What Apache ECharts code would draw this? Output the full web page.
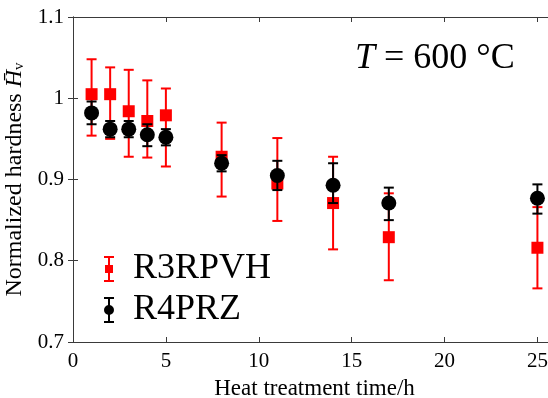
<!DOCTYPE html>
<html>
<head>
<meta charset="utf-8">
<script src="https://cdn.jsdelivr.net/npm/echarts@6/dist/echarts.min.js"></script>
<style>html,body{margin:0;padding:0;background:#fff;}#c{width:548px;height:398px;}</style>
</head>
<body>
<div id="c"></div>
<script>
// ---- data ----
const times = [1, 2, 3, 4, 5, 8, 11, 14, 17, 25];
const redName = 'R3RPVH';
const redMean = [1.005, 1.005, 0.984, 0.972, 0.979, 0.928, 0.895, 0.871, 0.829, 0.816];
const redHigh = [1.048, 1.038, 1.035, 1.022, 1.012, 0.970, 0.951, 0.928, 0.883, 0.866];
const redLow  = [0.954, 0.950, 0.928, 0.927, 0.916, 0.879, 0.849, 0.814, 0.776, 0.766];
const blackName = 'R4PRZ';
const blackMean = [0.982, 0.962, 0.962, 0.955, 0.952, 0.920, 0.905, 0.893, 0.871, 0.877];
const blackHigh = [0.996, 0.972, 0.972, 0.968, 0.962, 0.930, 0.923, 0.920, 0.890, 0.894];
const blackLow  = [0.968, 0.952, 0.952, 0.941, 0.942, 0.910, 0.887, 0.871, 0.850, 0.858];
const xTicks = [0, 5, 10, 15, 20, 25];
const yTicks = [0.7, 0.8, 0.9, 1.0, 1.1];

const FONT = '"Liberation Serif", "DejaVu Serif", serif';
const AXIS_COLOR = '#3a3a3a';
const RED = '#ff0000';
const BLACK = '#000000';

function pts(mean) { return times.map((t, i) => [t, mean[i]]); }
function bars(low, high) { return times.map((t, i) => [t, low[i], high[i]]); }

function errRender(color) {
  return function (params, api) {
    const x = api.value(0), lo = api.value(1), hi = api.value(2);
    const p1 = api.coord([x, hi]);
    const p2 = api.coord([x, lo]);
    const hw = 5;
    const st = { stroke: color, lineWidth: 2 };
    return {
      type: 'group',
      children: [
        { type: 'line', shape: { x1: p1[0], y1: p1[1], x2: p2[0], y2: p2[1] }, style: st },
        { type: 'line', shape: { x1: p1[0] - hw, y1: p1[1], x2: p1[0] + hw, y2: p1[1] }, style: st },
        { type: 'line', shape: { x1: p2[0] - hw, y1: p2[1], x2: p2[0] + hw, y2: p2[1] }, style: st }
      ]
    };
  };
}

const redIcon = 'path://M0 0H10V2H0Z M4 0H6V26H4Z M0 24H10V26H0Z M1 9H9V17H1Z';
const blackIcon = 'path://M0 0H10V2H0Z M4 0H6V26H4Z M0 24H10V26H0Z M0 13A5 5 0 1 1 10 13A5 5 0 1 1 0 13Z';

const axisCommon = {
  axisLine: { show: true, lineStyle: { color: AXIS_COLOR, width: 1 } },
  axisTick: { show: true, inside: true, length: 5, lineStyle: { color: AXIS_COLOR, width: 1 } },
  splitLine: { show: false }
};

const chart = echarts.init(document.getElementById('c'), null, { renderer: 'canvas' });
chart.setOption({
  animation: false,
  backgroundColor: '#fff',
  title: {
    text: '{i|T} = 600 °C',
    left: 350, top: 36,
    textStyle: {
      fontFamily: FONT, fontSize: 36, fontWeight: 'normal', color: '#000',
      rich: { i: { fontFamily: FONT, fontSize: 36, fontStyle: 'italic', color: '#000' } }
    }
  },
  legend: {
    orient: 'vertical',
    left: 99, top: 246,
    itemWidth: 10, itemHeight: 26, itemGap: 5,
    data: [{ name: redName, icon: redIcon }, { name: blackName, icon: blackIcon }],
    textStyle: { fontFamily: FONT, fontSize: 36, color: '#000', lineHeight: 36, padding: [0, 0, 0, 14] }
  },
  grid: { left: 73, top: 17, width: 483, height: 325, containLabel: false, outerBoundsMode: 'none' },
  xAxis: [
    Object.assign({
      type: 'value', min: 0, max: 26, interval: 5, position: 'bottom',
      name: 'Heat treatment time/h', nameLocation: 'middle', nameGap: 35,
      nameTextStyle: { fontFamily: FONT, fontSize: 23, color: '#000' },
      axisLabel: {
        fontFamily: FONT, fontSize: 21, color: '#000', margin: 9,
        formatter: v => (xTicks.indexOf(v) >= 0 ? String(v) : '')
      }
    }, axisCommon),
    Object.assign({
      type: 'value', min: 0, max: 26, interval: 5, position: 'top',
      axisLabel: { show: false }
    }, axisCommon)
  ],
  yAxis: [
    Object.assign({
      type: 'value', min: 0.7, max: 1.1, interval: 0.1, position: 'left',
      name: 'Normalized hardness {h|H\u0304}{v|v}', nameLocation: 'middle', nameGap: 44,
      nameTextStyle: {
        fontFamily: FONT, fontSize: 24, color: '#000', padding: [0, 0, 0, 0],
        rich: {
          h: { fontFamily: FONT, fontSize: 24, fontStyle: 'italic', color: '#000' },
          v: { fontFamily: FONT, fontSize: 15, color: '#000', verticalAlign: 'bottom', padding: [8, 0, 0, 0] }
        }
      },
      axisLabel: {
        fontFamily: FONT, fontSize: 21, color: '#000', margin: 9,
        formatter: v => {
          const r = Math.round(v * 10) / 10;
          return yTicks.some(t => Math.abs(t - r) < 1e-9) ? (r === 1 ? '1' : r.toFixed(1)) : '';
        }
      }
    }, axisCommon),
    Object.assign({
      type: 'value', min: 0.7, max: 1.1, interval: 0.1, position: 'right',
      axisLabel: { show: false }
    }, axisCommon)
  ],
  series: [
    {
      name: redName + ' error', type: 'custom', xAxisIndex: 0, yAxisIndex: 0,
      renderItem: errRender(RED), data: bars(redLow, redHigh),
      encode: { x: 0, y: [1, 2] }, z: 2, silent: true
    },
    {
      name: redName, type: 'scatter', xAxisIndex: 0, yAxisIndex: 0,
      symbol: 'rect', symbolSize: 12, data: pts(redMean),
      itemStyle: { color: RED, opacity: 1 }, z: 3
    },
    {
      name: blackName + ' error', type: 'custom', xAxisIndex: 0, yAxisIndex: 0,
      renderItem: errRender(BLACK), data: bars(blackLow, blackHigh),
      encode: { x: 0, y: [1, 2] }, z: 4, silent: true
    },
    {
      name: blackName, type: 'scatter', xAxisIndex: 0, yAxisIndex: 0,
      symbol: 'circle', symbolSize: 15, data: pts(blackMean),
      itemStyle: { color: BLACK, opacity: 1 }, z: 5
    }
  ]
});
</script>
</body>
</html>
